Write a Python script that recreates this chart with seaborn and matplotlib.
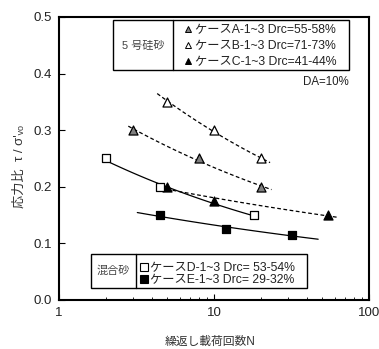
import numpy as np
import pandas as pd
import matplotlib
matplotlib.use("Agg")
import matplotlib.pyplot as plt
from matplotlib.patches import Rectangle
from matplotlib.lines import Line2D
import seaborn as sns

# ---- data ----
cases = ["A", "B", "C", "D", "E"]
N_A = [3, 8, 20];      t_A = [0.30, 0.25, 0.20]
N_B = [5, 10, 20];     t_B = [0.35, 0.30, 0.25]
N_C = [5, 10, 54];     t_C = [0.20, 0.175, 0.15]
N_D = [2, 4.5, 18];    t_D = [0.25, 0.20, 0.15]
N_E = [4.5, 12, 32];   t_E = [0.15, 0.125, 0.115]
fit_range = {"A": (2.8, 23.5), "B": (4.3, 23.0), "C": (4.5, 63.0),
             "D": (2.0, 18.0), "E": (3.2, 47.0)}
labels = {
    "A": "ケースA-1~3 Drc=55-58%",
    "B": "ケースB-1~3 Drc=71-73%",
    "C": "ケースC-1~3 Drc=41-44%",
    "D": "ケースD-1~3 Drc= 53-54%",
    "E": "ケースE-1~3 Drc= 29-32%",
}
x_ticks = [1, 10, 100]
y_ticks = [0.0, 0.1, 0.2, 0.3, 0.4, 0.5]

Ns = {"A": N_A, "B": N_B, "C": N_C, "D": N_D, "E": N_E}
ts = {"A": t_A, "B": t_B, "C": t_C, "D": t_D, "E": t_E}
df = pd.concat([pd.DataFrame({"N": Ns[c], "tau": ts[c], "case": c}) for c in cases],
               ignore_index=True)

styles = {
    "A": dict(marker="^", fc="#808080", ls="--", ms=6.5),
    "B": dict(marker="^", fc="white", ls="--", ms=6.5),
    "C": dict(marker="^", fc="black", ls="--", ms=6.5),
    "D": dict(marker="s", fc="white", ls="-", ms=6.3),
    "E": dict(marker="s", fc="black", ls="-", ms=6.3),
}

sns.set_theme(style="ticks")
plt.rcParams["font.family"] = ["Liberation Sans", "Noto Sans CJK JP", "DejaVu Sans"]

fig = plt.figure(figsize=(3.79, 3.49), dpi=100)
ax = fig.add_axes([59/379, 49/349, 310/379, 283/349])

# fitted power-law trend lines
fit_rows = []
for c in cases:
    b, a = np.polyfit(np.log10(Ns[c]), np.log10(ts[c]), 1)
    lo, hi = fit_range[c]
    xx = np.logspace(np.log10(lo), np.log10(hi), 60)
    fit_rows.append(pd.DataFrame({"N": xx, "tau": 10**a * xx**b, "case": c}))
fits = pd.concat(fit_rows, ignore_index=True)
for c in cases:
    sub = fits[fits.case == c]
    sns.lineplot(data=sub, x="N", y="tau", ax=ax, color="black", lw=0.9,
                 legend=False)
    ln = ax.lines[-1]
    if styles[c]["ls"] == "--":
        ln.set_linestyle((0, (3, 2)))
    else:
        ln.set_linestyle("-")

for c in cases:
    sub = df[df.case == c]
    sns.scatterplot(data=sub, x="N", y="tau", ax=ax, marker=styles[c]["marker"],
                    color=styles[c]["fc"], edgecolor="black", linewidth=0.9,
                    s=styles[c]["ms"]**2, zorder=5, legend=False)

ax.set_xscale("log")
ax.set_xlim(1, 100)
ax.set_ylim(0, 0.5)
ax.set_xticks(x_ticks)
ax.set_xticklabels([str(v) for v in x_ticks])
ax.set_yticks(y_ticks)
ax.set_yticklabels([f"{v:.1f}" for v in y_ticks])
ax.tick_params(axis="both", which="both", direction="in", colors="black",
               labelsize=9.5, labelcolor="#222222")
ax.tick_params(axis="both", which="major", length=4, width=0.8, pad=5)
ax.tick_params(axis="x", which="minor", length=2.5, width=0.6)
for s in ax.spines.values():
    s.set_linewidth(1.5)
    s.set_color("black")
    s.set_visible(True)

ax.set_xlabel("繰返し載荷回数N", fontsize=8.5, color="#333333")
ax.xaxis.set_label_coords(0.487, -0.125)
ax.set_ylabel("応力比  τ / σ'ᵥₒ", fontsize=9.5, color="#333333")
ax.yaxis.set_label_coords(-0.108, 0.47)

T = ax.transAxes
# upper legend box
ax.add_patch(Rectangle((0.174, 0.813), 0.935-0.174, 0.990-0.813, transform=T,
                       fill=False, ec="black", lw=1.0, zorder=6))
ax.add_line(Line2D([0.368, 0.368], [0.813, 0.990], transform=T, color="black", lw=1.0, zorder=6))
ax.text(0.271, 0.896, "5 号硅砂", transform=T, ha="center", va="center",
        fontsize=8, color="#444444")
hA = [Line2D([], [], marker=styles[c]["marker"], ls="none", mfc=styles[c]["fc"],
             mec="black", mew=0.7, ms=5, label=labels[c]) for c in ["A", "B", "C"]]
leg1 = ax.legend(handles=hA, loc="upper left", bbox_to_anchor=(0.394, 0.987),
                 frameon=False, fontsize=8.8, handlelength=0.6, handletextpad=0.2,
                 labelspacing=0.33, borderpad=0.3, borderaxespad=0)
for t in leg1.get_texts():
    t.set_color("#222222")
ax.add_artist(leg1)

# lower legend box
ax.add_patch(Rectangle((0.103, 0.042), 0.80-0.103, 0.163-0.042, transform=T,
                       fill=False, ec="black", lw=1.0, zorder=6))
ax.add_line(Line2D([0.248, 0.248], [0.042, 0.163], transform=T, color="black", lw=1.0, zorder=6))
ax.text(0.176, 0.102, "混合砂", transform=T, ha="center", va="center",
        fontsize=8, color="#444444")
hD = [Line2D([], [], marker=styles[c]["marker"], ls="none", mfc=styles[c]["fc"],
             mec="black", mew=0.8, ms=6, label=labels[c]) for c in ["D", "E"]]
leg2 = ax.legend(handles=hD, loc="upper left", bbox_to_anchor=(0.249, 0.147),
                 frameon=False, fontsize=8.8, handlelength=0.6, handletextpad=0.2,
                 labelspacing=0.0, borderpad=0.3, borderaxespad=0)
for t in leg2.get_texts():
    t.set_color("#222222")

ax.text(0.935, 0.770, "DA=10%", transform=T, ha="right", va="center",
        fontsize=8.3, color="#222222")

fig.savefig("out.png", dpi=100)
